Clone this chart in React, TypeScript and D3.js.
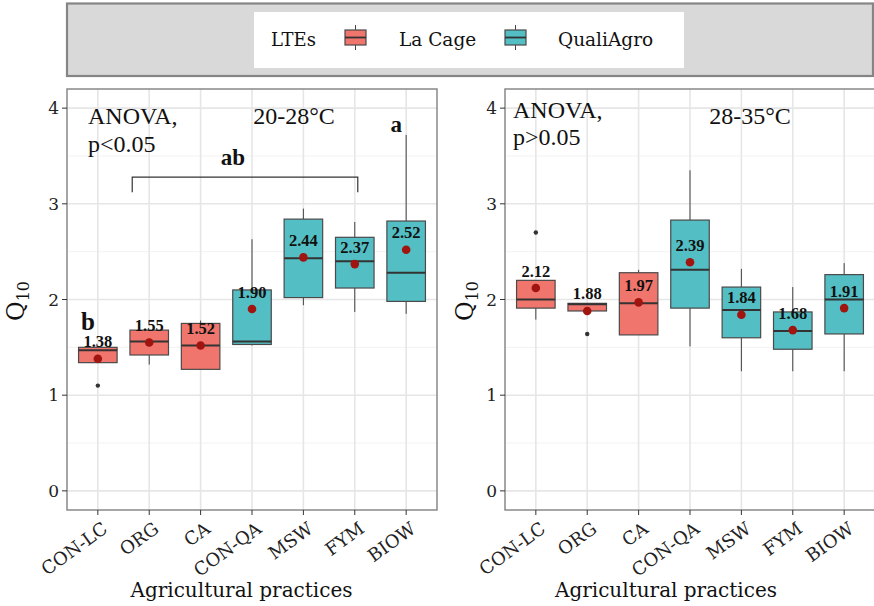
import React from "react";
import * as d3 from "d3";

const categories = ["CON-LC", "ORG", "CA", "CON-QA", "MSW", "FYM", "BIOW"];
const groups = ["La Cage", "La Cage", "La Cage", "QualiAgro", "QualiAgro", "QualiAgro", "QualiAgro"];
const legendGroups = ["La Cage", "QualiAgro"];
const yTicks = [0, 1, 2, 3, 4];

// 20-28°C
const lowA = [1.34, 1.32, 1.27, 1.52, 1.94, 1.87, 1.85];
const q1A = [1.34, 1.42, 1.27, 1.53, 2.02, 2.12, 1.98];
const medA = [1.47, 1.56, 1.52, 1.56, 2.43, 2.40, 2.28];
const q3A = [1.50, 1.68, 1.75, 2.10, 2.84, 2.65, 2.82];
const highA = [1.50, 1.68, 1.78, 2.63, 2.95, 2.81, 3.72];
const meanA = [1.38, 1.55, 1.52, 1.90, 2.44, 2.37, 2.52];
const outA = [[1.10], [], [], [], [], [], []];

// 28-35°C
const lowB = [1.79, 1.88, 1.63, 1.51, 1.25, 1.25, 1.25];
const q1B = [1.91, 1.88, 1.63, 1.91, 1.60, 1.48, 1.64];
const medB = [2.00, 1.95, 1.96, 2.31, 1.89, 1.67, 2.00];
const q3B = [2.20, 1.96, 2.28, 2.83, 2.13, 1.87, 2.26];
const highB = [2.20, 1.96, 2.31, 3.35, 2.32, 2.13, 2.38];
const meanB = [2.12, 1.88, 1.97, 2.39, 1.84, 1.68, 1.91];
const outB = [[2.70], [1.64], [], [], [], [], []];

const colors: Record<string, string> = { "La Cage": "#F0766D", QualiAgro: "#53BEC3" };
const TICK_FONT = "'DejaVu Serif', serif";
const TIMES = "'Liberation Serif', 'Times New Roman', serif";

type PanelProps = {
  x0: number; x1: number; low: number[]; q1: number[]; med: number[]; q3: number[];
  high: number[]; mean: number[]; outs: number[][]; title: string; pText: string;
  anovaX: number; anovaY: number; anovaGap: number; titleX: number; yTitleX: number; xTitleX: number;
  children?: (x: d3.ScalePoint<string>, y: d3.ScaleLinear<number, number>) => React.ReactNode;
};

const TOP = 89, BOTTOM = 510;

function Panel(p: PanelProps) {
  const x = d3.scalePoint<string>().domain(categories).range([p.x0, p.x1]).padding(0.6);
  const y = d3.scaleLinear().domain([-0.2, 4.2]).range([BOTTOM, TOP]);
  const step = x.step();
  const bw = step * 0.75;
  const minor = [0.5, 1.5, 2.5, 3.5];
  return (
    <g>
      <rect x={p.x0} y={TOP} width={p.x1 - p.x0} height={BOTTOM - TOP} fill="#fff" />
      {minor.map((v) => (
        <line key={"mi" + v} x1={p.x0} x2={p.x1} y1={y(v)} y2={y(v)} stroke="#f2f2f2" strokeWidth={1} />
      ))}
      {yTicks.map((v) => (
        <line key={"ma" + v} x1={p.x0} x2={p.x1} y1={y(v)} y2={y(v)} stroke="#e6e6e6" strokeWidth={1.6} />
      ))}
      {categories.map((c) => (
        <line key={"v" + c} x1={x(c)} x2={x(c)} y1={TOP} y2={BOTTOM} stroke="#e6e6e6" strokeWidth={1.6} />
      ))}
      {categories.map((c, i) => {
        const cx = x(c)!;
        return (
          <g key={"b" + c}>
            <line x1={cx} x2={cx} y1={y(p.high[i])} y2={y(p.q3[i])} stroke="#444" strokeWidth={1} />
            <line x1={cx} x2={cx} y1={y(p.q1[i])} y2={y(p.low[i])} stroke="#444" strokeWidth={1} />
            <rect x={cx - bw / 2} y={y(p.q3[i])} width={bw} height={Math.max(1, y(p.q1[i]) - y(p.q3[i]))}
              fill={colors[groups[i]]} stroke="#4a4a4a" strokeWidth={1.2} />
            <line x1={cx - bw / 2} x2={cx + bw / 2} y1={y(p.med[i])} y2={y(p.med[i])} stroke="#333" strokeWidth={2} />
            {p.outs[i].map((o, j) => (
              <circle key={j} cx={cx} cy={y(o)} r={2.2} fill="#333" />
            ))}
            <circle cx={cx} cy={y(p.mean[i])} r={4.3} fill="#A0150F" />
            <text x={cx} y={y(p.mean[i]) - 17} textAnchor="middle" dominantBaseline="central"
              fontFamily={TIMES} fontWeight="bold" fontSize={16.5} fill="#111">
              {p.mean[i].toFixed(2)}
            </text>
          </g>
        );
      })}
      <rect x={p.x0} y={TOP} width={p.x1 - p.x0} height={BOTTOM - TOP} fill="none" stroke="#808080" strokeWidth={1.4} />
      {yTicks.map((v) => (
        <g key={"yt" + v}>
          <line x1={p.x0 - 5} x2={p.x0} y1={y(v)} y2={y(v)} stroke="#333" strokeWidth={1} />
          <text x={p.x0 - 8} y={y(v)} textAnchor="end" dominantBaseline="central" fontFamily={TICK_FONT}
            fontSize={17} fill="#222">{v}</text>
        </g>
      ))}
      {categories.map((c) => (
        <g key={"xt" + c}>
          <line x1={x(c)} x2={x(c)} y1={BOTTOM} y2={BOTTOM + 5} stroke="#333" strokeWidth={1} />
          <text transform={`translate(${x(c)! + 7},${BOTTOM + 16}) rotate(-36)`} textAnchor="end"
            dominantBaseline="central" fontFamily={TICK_FONT} fontSize={18} fill="#222">{c}</text>
        </g>
      ))}
      <text x={p.xTitleX} y={590} textAnchor="middle" dominantBaseline="central" fontFamily={TICK_FONT}
        fontSize={20} fill="#111">Agricultural practices</text>
      <text transform={`translate(${p.yTitleX},301) rotate(-90)`} textAnchor="middle" fontFamily={TICK_FONT}
        fontSize={24} fill="#111">
        <tspan>Q</tspan>
        <tspan fontSize={16} dy={5}>10</tspan>
      </text>
      <text x={p.anovaX} y={p.anovaY} dominantBaseline="central" fontFamily={TIMES} fontSize={24} fill="#111">ANOVA,</text>
      <text x={p.anovaX} y={p.anovaY + p.anovaGap} dominantBaseline="central" fontFamily={TIMES} fontSize={24} fill="#111">{p.pText}</text>
      <text x={p.titleX} y={115.7} textAnchor="middle" dominantBaseline="central" fontFamily={TIMES} fontSize={24} fill="#111">{p.title}</text>
      {p.children ? p.children(x, y) : null}
    </g>
  );
}

export default function App() {
  return (
    <div style={{ position: "absolute", left: 0, top: 0 }}>
      <svg width={874} height={606} style={{ display: "block", background: "#fff" }}>
        {/* legend */}
        <rect x={67} y={3.5} width={806} height={72.5} fill="#d9d9d9" stroke="#858585" strokeWidth={2.2} />
        <rect x={254} y={12} width={430} height={56} fill="#fff" />
        <text x={271} y={39.5} dominantBaseline="central" fontFamily={TICK_FONT} fontSize={18} fill="#111">LTEs</text>
        {legendGroups.map((g, i) => {
          const kx = i === 0 ? 345 : 505;
          const tx = i === 0 ? 399 : 558;
          return (
            <g key={g}>
              <line x1={kx + 10.5} x2={kx + 10.5} y1={25} y2={50} stroke="#444" strokeWidth={1} />
              <rect x={kx} y={30} width={21} height={15} fill={colors[g]} stroke="#4a4a4a" strokeWidth={1.2} />
              <line x1={kx} x2={kx + 21} y1={37.5} y2={37.5} stroke="#333" strokeWidth={1.8} />
              <text x={tx} y={39.5} dominantBaseline="central" fontFamily={TICK_FONT} fontSize={18.5} fill="#111">{g}</text>
            </g>
          );
        })}
        <Panel x0={67} x1={437} low={lowA} q1={q1A} med={medA} q3={q3A} high={highA} mean={meanA} outs={outA}
          title="20-28°C" pText="p<0.05" anovaX={88} anovaY={115.7} anovaGap={28.6} titleX={294} yTitleX={24} xTitleX={241.5}>
          {(x, y) => {
            const x1 = x("ORG")! - 17;
            const x2 = x("FYM")! + 3;
            return (
              <g>
                <path d={`M${x1},${y(3.12)}V${y(3.28)}H${x2}V${y(3.12)}`} fill="none" stroke="#333" strokeWidth={1.2} />
                <text x={233} y={y(3.48)} textAnchor="middle" dominantBaseline="central" fontFamily={TIMES}
                  fontWeight="bold" fontSize={23} fill="#111">ab</text>
                <text x={x("CON-LC")! - 10} y={y(1.77)} textAnchor="middle" dominantBaseline="central" fontFamily={TIMES}
                  fontWeight="bold" fontSize={25} fill="#111">b</text>
                <text x={x("BIOW")! - 10} y={y(3.83)} textAnchor="middle" dominantBaseline="central" fontFamily={TIMES}
                  fontWeight="bold" fontSize={23} fill="#111">a</text>
              </g>
            );
          }}
        </Panel>
        <Panel x0={505} x1={875} low={lowB} q1={q1B} med={medB} q3={q3B} high={highB} mean={meanB} outs={outB}
          title="28-35°C" pText="p>0.05" anovaX={513} anovaY={110} anovaGap={26.7} titleX={750} yTitleX={473} xTitleX={666} />
      </svg>
    </div>
  );
}
